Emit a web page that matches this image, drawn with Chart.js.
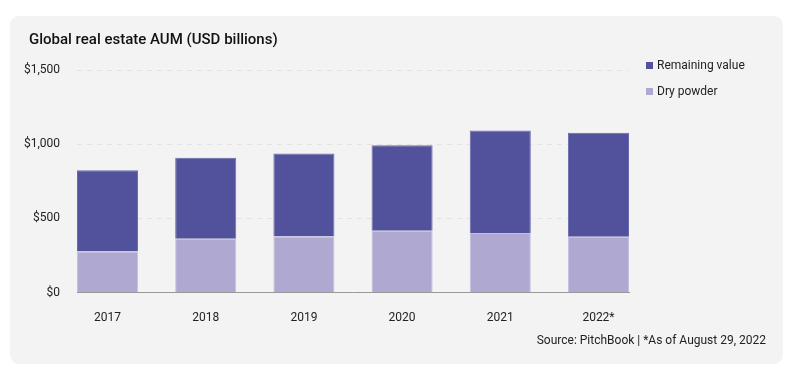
<!DOCTYPE html>
<html>
<head>
<meta charset="utf-8">
<script src="https://cdn.jsdelivr.net/npm/chart.js@4"></script>
<style>
  body { margin: 0; background: #fff; width: 800px; height: 386px; position: relative; font-family: Roboto, sans-serif; }
  #card { position: absolute; left: 10px; top: 16px; width: 773px; height: 348px; background: #f3f3f3; border-radius: 9px; }
  #title { position: absolute; left: 19px; top: 14px; font-size: 15px; font-weight: 500; color: #111; }
  #source { position: absolute; right: 17px; top: 317px; font-size: 12px; color: #222; }
  #wrap { position: absolute; left: 0; top: 0; width: 773px; height: 348px; }
  #legend { position: absolute; left: 636px; top: 36px; font-size: 12px; color: #222; }
  .item { height: 26px; line-height: 16px; display: flex; align-items: center; }
  .item span.box { width: 7px; height: 7px; margin-right: 4px; display: inline-block; }
</style>
</head>
<body>
<div id="card">
  <div id="wrap"><canvas id="myChart"></canvas></div>
  <div id="title">Global real estate AUM (USD billions)</div>
  <div id="legend"></div>
  <div id="source">Source: PitchBook | *As of August 29, 2022</div>
</div>
<script>
const years = ['2017', '2018', '2019', '2020', '2021', '2022*'];
const dryPowder = [277, 363, 378, 417, 401, 376];
const remainingValue = [547, 545, 559, 576, 691, 701];
const yTicks = [0, 500, 1000, 1500];

// bars sit on a linear index axis so the first and last bar touch the plot edges
const toPoints = (values) => values.map((v, i) => ({ x: i, y: v }));

const chartContext = document.getElementById('myChart').getContext('2d');
const chartConfig = {
    type: 'bar',
    data: {
        datasets: [{
            label: 'Dry powder',
            data: toPoints(dryPowder),
            backgroundColor: '#afa8d0',
            borderColor: '#c4bfdf',
            borderWidth: 1
        }, {
            label: 'Remaining value',
            data: toPoints(remainingValue),
            backgroundColor: '#52519b',
            borderColor: '#6a69ad',
            borderWidth: 1
        }]
    },
    options: {
        responsive: true,
        maintainAspectRatio: false,
        animation: false,
        layout: { padding: { left: 0, right: 154, top: 54, bottom: 29 } },
        datasets: { bar: { barPercentage: 0.622, categoryPercentage: 1 } },
        plugins: {
            tooltip: { enabled: false },
            legend: { display: false }
        },
        scales: {
            x: {
                type: 'linear',
                stacked: true,
                offset: false,
                min: -0.311,
                max: years.length - 1 + 0.311,
                afterBuildTicks: (axis) => { axis.ticks = years.map((y, i) => ({ value: i })); },
                grid: { display: false },
                border: { color: '#999', width: 1 },
                ticks: {
                    color: '#222',
                    padding: 10,
                    font: { family: 'Roboto', size: 12 },
                    callback: (v) => years[v]
                }
            },
            y: {
                stacked: true,
                min: 0,
                max: 1500,
                afterBuildTicks: (axis) => { axis.ticks = yTicks.map(v => ({ value: v })); },
                afterFit: (axis) => { axis.width = 67; },
                grid: { color: '#e2e2e2', drawTicks: false },
                border: { display: false, dash: [5, 5] },
                ticks: {
                    color: '#222',
                    padding: 17,
                    font: { family: 'Roboto', size: 12 },
                    callback: (v) => '$' + v.toLocaleString('en-US')
                }
            }
        }
    }
};
const myChart = new Chart(chartContext, chartConfig);

// legend in the same order as the reference (top series first)
const legendEl = document.getElementById('legend');
chartConfig.data.datasets.slice().reverse().forEach((ds) => {
    const row = document.createElement('div');
    row.className = 'item';
    row.innerHTML = '<span class="box" style="background:' + ds.backgroundColor + '"></span>' + ds.label;
    legendEl.appendChild(row);
});
</script>
</body>
</html>
